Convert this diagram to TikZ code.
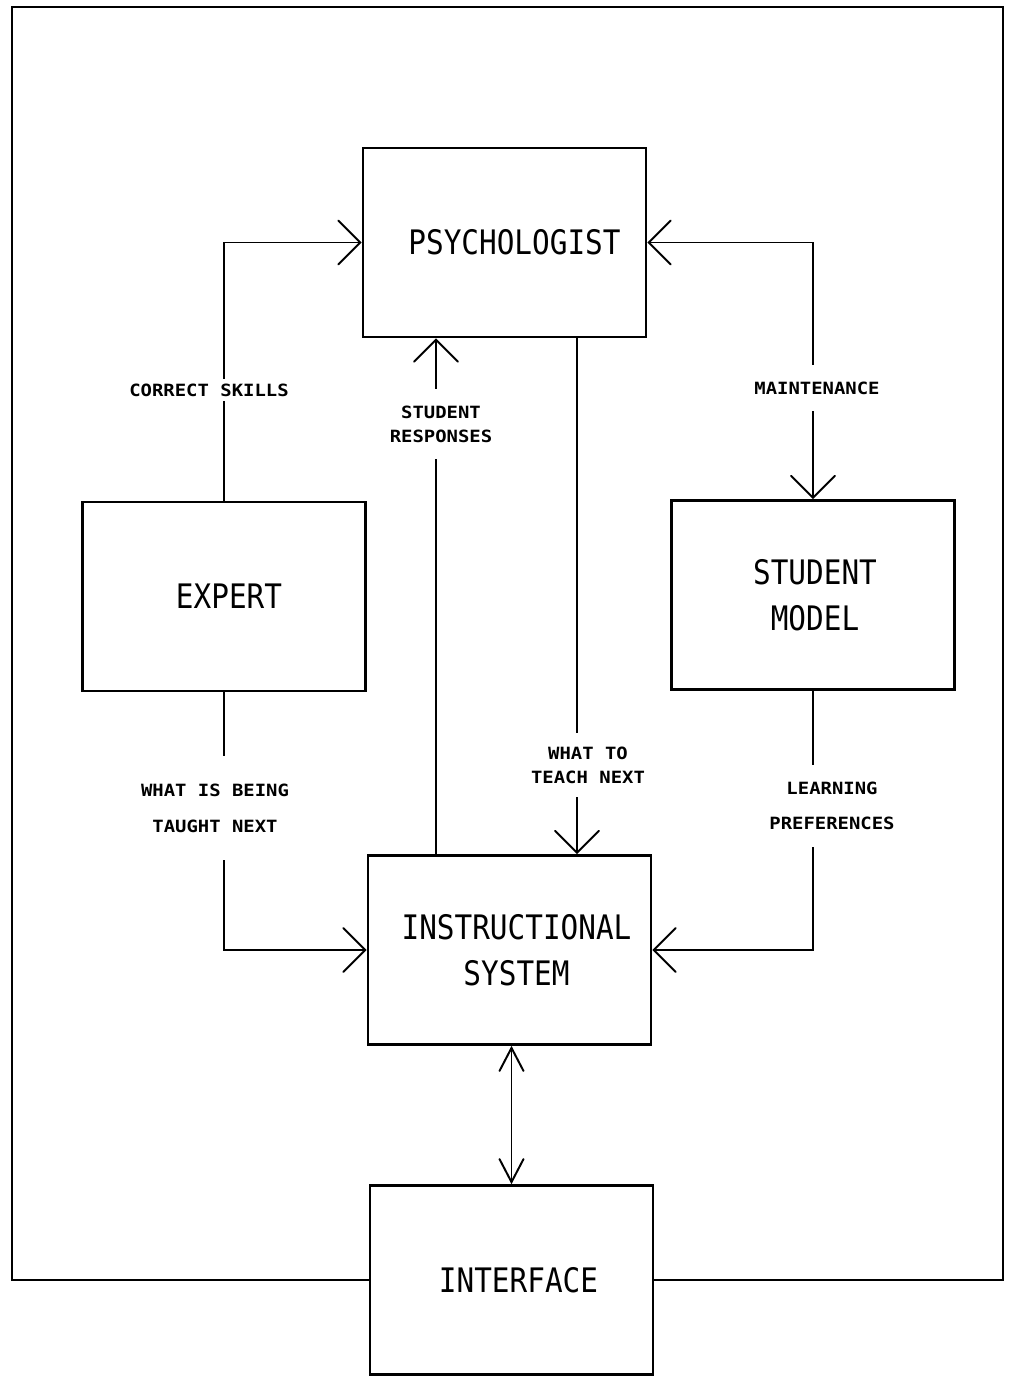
\documentclass[tikz,border=0pt]{standalone}
\usepackage{fontspec}
\usetikzlibrary{arrows.meta}
\newfontfamily\boxfont[FakeStretch=0.87]{DejaVu Sans Mono}
\newfontfamily\lblfont[FakeStretch=1.12]{DejaVu Sans Mono}
\begin{document}
\begin{tikzpicture}[x=0.025cm,y=-0.025cm,
  box/.style={draw, line width=1.8pt, minimum width=7.075cm, minimum height=4.725cm,
    inner sep=0pt, align=center, font=\boxfont\fontsize{24}{33}\selectfont},
  conn/.style={line width=1.4pt},
  frameline/.style={line width=1.8pt, line join=miter},
  tag/.style={fill=white, align=center, inner xsep=2pt,
    font=\lblfont\bfseries\fontsize{12}{17}\selectfont},
  wtip/.tip={Straight Barb[length=0.55cm, width=1.1cm, line cap=round]},
  ntip/.tip={Straight Barb[length=0.575cm, width=0.6cm, line cap=round]}]
\useasboundingbox (0,0) rectangle (1008,1379);

% blocks (leading space nudges each label slightly right of the box centre)
\node[box] (psy) at (504.5,242.5) {\hspace*{0.5cm}PSYCHOLOGIST};
\node[box] (exp) at (224,596.5) {\hspace*{0.25cm}EXPERT};
\node[box] (sm)  at (813,595) {\hspace*{0.1cm}STUDENT\\\hspace*{0.1cm}MODEL};
\node[box] (is)  at (509.5,950) {\hspace*{0.35cm}INSTRUCTIONAL\\\hspace*{0.35cm}SYSTEM};
\node[box] (itf) at (511.5,1280) {\hspace*{0.35cm}INTERFACE};

% helper abscissae for the two vertical links under the psychologist
\coordinate (xr) at (436,0);
\coordinate (xt) at (577,0);
\coordinate (ftl) at (12,7);
\coordinate (ftr) at (1003,7);

% outer frame
\draw[frameline] (itf.west) -| (ftl) -- (ftr) |- (itf.east);

% connectors
\draw[conn,-wtip] (exp.north) |- (psy.west);
\draw[conn,-wtip] (xr |- is.north) -- (xr |- psy.south);
\draw[conn,-wtip] (xt |- psy.south) -- (xt |- is.north);
\draw[conn,wtip-wtip] (psy.east) -| (sm.north);
\draw[conn,-wtip] (exp.south) |- (is.west);
\draw[conn,-wtip] (sm.south) |- (is.east);
\draw[conn,ntip-ntip] (itf.north |- is.south) -- (itf.north);

% connector labels
\node[tag, inner ysep=3pt] (lcs) at (209,390) {CORRECT SKILLS};
\node[tag, inner ysep=12pt] (lsr) at (441,424) {STUDENT\\RESPONSES};
\node[tag, inner ysep=10pt] (ltn) at (588,765) {WHAT TO\\TEACH NEXT};
\node[tag, inner ysep=12pt] (lmt) at (817,388) {MAINTENANCE};
\node[tag, inner ysep=20pt, font=\lblfont\bfseries\fontsize{12}{25.5}\selectfont]
  (lwb) at (215,808) {WHAT IS BEING\\TAUGHT NEXT};
\node[tag, inner ysep=12pt, font=\lblfont\bfseries\fontsize{12}{25}\selectfont]
  (llp) at (832,806) {LEARNING\\PREFERENCES};
\end{tikzpicture}
\end{document}
